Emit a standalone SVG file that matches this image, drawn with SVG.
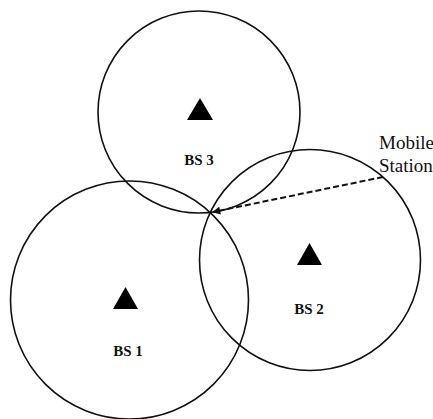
<svg xmlns="http://www.w3.org/2000/svg" width="433" height="419" viewBox="0 0 433 419">
  <style>
    .cell { fill: none; stroke: #111; stroke-width: 1.6; }
    .bs { fill: #000; }
    .lbl { font-family: "Liberation Serif", "Times New Roman", serif; font-size: 15px; font-weight: bold; fill: #111; text-anchor: middle; }
    .ms { font-family: "Liberation Serif", "Times New Roman", serif; font-size: 19px; fill: #111; }
    .link { fill: none; stroke: #111; stroke-width: 2; stroke-dasharray: 6 3; }
  </style>
  <defs>
    <marker id="arrow" viewBox="0 0 10 10" refX="9" refY="5" markerWidth="5" markerHeight="4" orient="auto" markerUnits="strokeWidth">
      <path d="M0,0 L10,5 L0,10 z" fill="#111"/>
    </marker>
  </defs>

  <rect width="433" height="419" fill="#fff"/>

  <!-- coverage cell of base station 3 -->
  <g id="bs3">
    <circle class="cell" cx="199" cy="112" r="101"/>
    <polygon class="bs" points="200,98 187,120 213,120"/>
    <text class="lbl" x="199" y="165">BS 3</text>
  </g>

  <!-- coverage cell of base station 1 -->
  <g id="bs1">
    <circle class="cell" cx="129.5" cy="300" r="119"/>
    <polygon class="bs" points="125.5,287 113,309 138,309"/>
    <text class="lbl" x="128" y="356">BS 1</text>
  </g>

  <!-- coverage cell of base station 2 -->
  <g id="bs2">
    <circle class="cell" cx="310" cy="260" r="110.5"/>
    <polygon class="bs" points="309.5,243 297,265 322,265"/>
    <text class="lbl" x="309" y="314">BS 2</text>
  </g>

  <!-- mobile station label -->
  <g id="ms">
    <text class="ms" x="379" y="149">Mobile</text>
    <text class="ms" x="379" y="172">Station</text>
  </g>

  <!-- pointer from label to the common intersection point -->
  <g id="connectors">
    <path class="link" d="M383,177 L213,212" marker-end="url(#arrow)"/>
  </g>
</svg>
